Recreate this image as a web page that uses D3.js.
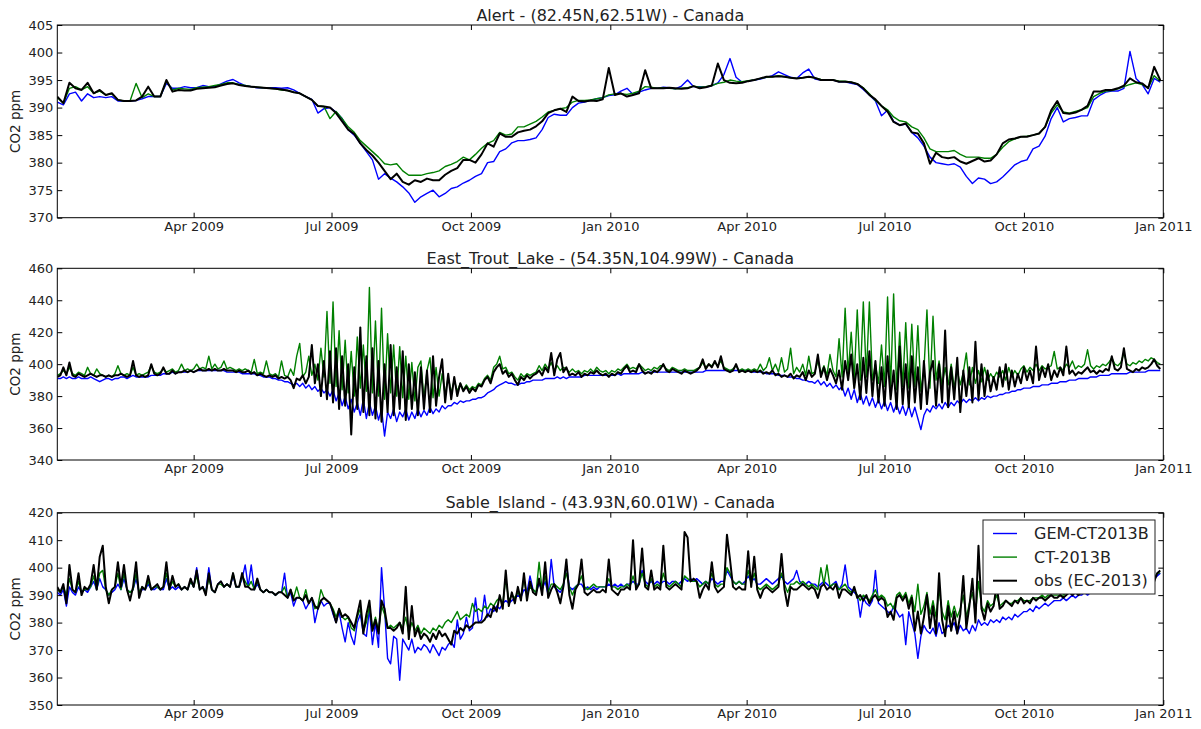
<!DOCTYPE html>
<html>
<head>
<meta charset="utf-8">
<script src="https://cdn.jsdelivr.net/npm/d3@7"></script>
<style>
body { margin: 0; background: #fff; }
svg { display: block; font-family: "DejaVu Sans", sans-serif; }
</style>
</head>
<body>
<svg width="1201" height="729"></svg>
<script>
var svg = d3.select("svg"),
    width = +svg.attr("width"),
    height = +svg.attr("height");

var startDate = Date.UTC(2009, 0, 1),
    endDate = Date.UTC(2011, 0, 1);

var seriesNames = ["GEM-CT2013B", "CT-2013B", "obs (EC-2013)"];
var seriesColors = ["#0000ff", "#008000", "#000000"];
var seriesWidths = [1.4, 1.4, 2];

var xTickLabels = ["Apr 2009", "Jul 2009", "Oct 2009", "Jan 2010", "Apr 2010", "Jul 2010", "Oct 2010", "Jan 2011"];

var alertTicks = [370, 375, 380, 385, 390, 395, 400, 405];
var etlTicks = [340, 360, 380, 400, 420, 440, 460];
var sableTicks = [350, 360, 370, 380, 390, 400, 410, 420];

// Alert: one value every 4 days from 2009-01-01
var alertGem = [
  391, 390.5, 392.5, 392.8, 391.2, 392.5, 391.8, 392, 391.8, 392,
  391.2, 391.2, 391.2, 391.3, 391.6, 392, 392, 392, 394.4, 393.5,
  393.5, 393.8, 393.6, 393.6, 394, 393.8, 393.8, 394.3, 394.8, 395.1,
  394.5, 394, 393.8, 393.6, 393.6, 393.6, 393.6, 393.5, 393.6, 393.2,
  392.6, 392, 391.5, 389, 389.8, 390, 389.2, 388, 386, 385,
  383.5, 382, 380.5, 377, 378, 377.2, 376.5, 375.6, 374.5, 372.8,
  373.8, 374.4, 375, 373.8, 374.4, 375.3, 375.6, 376.3, 376.8, 377.5,
  378, 380, 380.2, 382, 382.5, 383.6, 384, 384, 384.2, 384.5,
  386, 388.2, 388.8, 388.6, 388.6, 390, 390.8, 391, 391.3, 391.6,
  391.8, 392.2, 392.3, 393, 393.5, 392.4, 392.8, 393.2, 393.5, 393.5,
  393.7, 393.6, 393.4, 393.9, 395, 393.8, 393.8, 393.7, 394, 394.5,
  396, 398.9, 395.5, 394.6, 394.8, 395, 395.2, 395.5, 395.8, 396.5,
  396, 395.5, 395.3, 396.3, 397, 395.2, 395, 395, 395, 394.7,
  394.7, 394.4, 394.2, 393.3, 392.3, 391.2, 388.5, 389.5, 387.5, 386.8,
  387, 385.5, 384.5, 383, 381, 380, 379.8, 379.6, 379.8, 379.2,
  377.5, 376.2, 377.2, 377, 376.2, 376.5, 377.4, 378.5, 379.6, 380.2,
  380.5, 382.5, 383, 384.8, 388, 390, 387.4, 388, 388.2, 388.5,
  388.5, 391.4, 392.2, 392.8, 393, 393, 393.5, 400.2, 395.3, 394.2,
  392.5, 395.3, 394.6
];
var alertCt = [
  391.8, 390.8, 393.5, 393.8, 393.2, 393.8, 392.6, 393, 392.3, 392.5,
  391.4, 391.2, 391.2, 394.4, 391.8, 392.5, 392, 392, 394.8, 393.2,
  393.5, 393.4, 393.3, 393.6, 393.7, 393.8, 394, 394.2, 394.5, 394.5,
  394.2, 394, 393.8, 393.7, 393.6, 393.5, 393.4, 393.2, 393.1, 392.8,
  392.6, 392, 391.4, 390.3, 390.2, 388, 389.3, 388, 386.5, 385.5,
  384, 383, 382, 381, 379.8, 379.6, 379.8, 378.5, 377.7, 377.7,
  377.7, 378, 378.2, 378.5, 379.3, 379.7, 380.2, 381, 380.5, 381.5,
  382.6, 383.5, 384, 385.5, 385, 385.2, 386.5, 386.5, 387, 387.5,
  388.3, 389.2, 389.5, 389.8, 390, 391, 391.3, 391.3, 391.4, 391.6,
  391.8, 392.3, 392.5, 392.5, 392.4, 392.6, 393, 393.8, 393.7, 393.5,
  393.6, 393.5, 393.4, 393.5, 393.6, 393.9, 393.7, 393.8, 394, 394.4,
  394.6, 395, 394.8, 394.7, 394.9, 395, 395.3, 395.5, 395.6, 395.8,
  395.6, 395.4, 395.3, 395.4, 395.6, 395.4, 395.1, 395, 395, 394.8,
  394.8, 394.6, 394.3, 393.6, 392.5, 391.3, 390.3, 389.6, 388.3, 387.6,
  387.4, 386.5, 386, 384.5, 382.5, 382, 382, 382, 382.2, 381.5,
  381, 381, 381, 380.8, 380.8, 381.5, 382.8, 383.8, 384.3, 384.7,
  384.8, 385, 385.3, 386.5, 389, 390.5, 389.2, 389, 389.3, 389.6,
  390, 392, 392.6, 393, 393.1, 393.4, 393.8, 394.2, 394.5, 394.2,
  393.6, 395.8, 394.8
];
var alertObs = [
  392, 390.8, 394.5, 393.5, 393.2, 394.5, 392.6, 393.2, 392.3, 392.6,
  391.4, 391.2, 391.2, 391.3, 392, 393.8, 392, 392, 395, 392.9,
  393.2, 393.1, 393.1, 393.4, 393.5, 393.6, 393.7, 394, 394.3, 394.4,
  394.1, 393.9, 393.8, 393.7, 393.6, 393.5, 393.4, 393.3, 393.1, 392.8,
  392.6, 392, 391.4, 390.3, 390.2, 390, 389, 387.5, 386, 385.2,
  383.5, 382.3, 381.3, 380, 378.5, 377, 378, 376.5, 376, 376.8,
  376.5, 377.1, 376.8, 376.8, 377.8, 378.5, 379, 380.5, 380.5, 380,
  381.5, 383.5, 382.9, 385.3, 384.7, 384.7, 385.5, 385.8, 386, 386.6,
  387.5, 389, 389.5, 389.8, 389.2, 392, 391.2, 391.1, 391.3, 391.2,
  391.5, 397.2, 392.3, 392.6, 392, 392.3, 392.6, 396.8, 393.5, 393.5,
  393.5, 393.6, 393.5, 393.4, 393.5, 393.9, 393.5, 393.7, 394, 398,
  395, 394.5, 394.4, 394.5, 394.8, 395, 395.3, 395.6, 395.6, 395.7,
  395.6, 395.4, 395.3, 395.4, 395.6, 395.4, 395, 395, 395, 394.7,
  394.7, 394.6, 394.3, 393.5, 392.3, 391.5, 390.3, 389.3, 387.4, 386.8,
  387.1, 385.5, 385.3, 383.5, 379.8, 381.8, 381, 380.8, 381, 380.2,
  379.8, 380.3, 380.8, 380.2, 380.4, 381.5, 383.5, 384.2, 384.4, 384.7,
  384.7, 385, 385.3, 386.5, 389.5, 391.2, 389, 388.9, 389.1, 389.6,
  390.3, 392.9, 392.9, 393.2, 393.2, 393.5, 394, 395.3, 394.6, 394.4,
  393.5, 397.4, 395
];

// East Trout Lake: one value every 2 days from 2009-01-01
var etlGem = [
  391, 391, 392, 391, 392, 391, 391, 392, 391, 391, 391, 392, 391, 390, 389, 390, 391, 391, 390, 391,
  391, 392, 392, 391, 392, 393, 392, 392, 392, 392, 392, 393, 393, 393, 393, 394, 394, 394, 395, 394,
  395, 395, 395, 395, 396, 395, 396, 396, 396, 396, 396, 396, 396, 396, 396, 396, 395, 395, 395, 395,
  395, 394, 394, 394, 394, 394, 393, 393, 392, 392, 392, 391, 391, 390, 390, 389, 389, 388, 387, 388,
  386, 388, 385, 387, 384, 386, 383, 385, 382, 384, 380, 384, 377, 382, 374, 380, 372, 378, 370, 376,
  368, 378, 366, 376, 368, 374, 365, 372, 355, 370, 366, 372, 364, 370, 367, 372, 365, 370, 366, 372,
  367, 371, 368, 373, 369, 372, 370, 374, 372, 374, 374, 376, 375, 377, 376, 377, 377, 378, 378, 379,
  379, 380, 382, 383, 384, 386, 387, 388, 389, 388, 388, 387, 387, 388, 388, 389, 389, 390, 390, 390,
  390, 391, 391, 391, 391, 392, 391, 392, 391, 392, 392, 392, 392, 392, 393, 393, 393, 393, 393, 393,
  393, 393, 393, 393, 393, 394, 393, 394, 394, 394, 394, 394, 394, 395, 394, 395, 395, 395, 395, 395,
  395, 395, 395, 395, 395, 395, 395, 395, 395, 395, 395, 395, 395, 395, 396, 396, 396, 396, 396, 396,
  396, 396, 396, 396, 396, 396, 396, 396, 396, 395, 395, 395, 395, 395, 394, 394, 394, 394, 393, 393,
  393, 392, 392, 392, 391, 391, 390, 390, 389, 389, 388, 390, 387, 389, 386, 388, 385, 387, 384, 386,
  380, 385, 378, 384, 376, 382, 375, 380, 374, 379, 373, 378, 372, 377, 371, 376, 370, 375, 369, 374,
  368, 374, 367, 373, 366, 359, 368, 372, 370, 374, 372, 375, 372, 376, 373, 376, 374, 377, 375, 378,
  376, 378, 377, 379, 377, 379, 378, 380, 379, 380, 380, 381, 381, 382, 382, 383, 383, 384, 384, 385,
  385, 385, 386, 386, 386, 387, 387, 387, 388, 388, 388, 389, 389, 389, 390, 390, 390, 391, 391, 391,
  391, 392, 392, 392, 393, 393, 393, 393, 394, 394, 394, 394, 394, 394, 395, 395, 395, 395, 395, 395,
  396, 396, 396, 396, 396
];
var etlCt = [
  393, 394, 396, 394, 398, 394, 393, 395, 394, 393, 398, 394, 393, 397, 394, 393, 392, 393, 392, 394,
  399, 394, 393, 394, 393, 398, 393, 394, 393, 394, 395, 399, 395, 394, 395, 397, 395, 396, 397, 395,
  396, 400, 396, 397, 396, 397, 400, 397, 398, 397, 405, 397, 400, 397, 398, 402, 397, 398, 397, 396,
  397, 396, 397, 396, 395, 403, 394, 395, 394, 402, 394, 393, 394, 392, 402, 393, 392, 397, 393, 405,
  413, 392, 395, 405, 393, 400, 390, 410, 392, 433, 388, 439, 386, 421, 384, 415, 382, 408, 380, 417,
  385, 412, 383, 448, 382, 427, 380, 435, 378, 419, 382, 412, 380, 411, 379, 405, 378, 401, 377, 398,
  402, 378, 396, 404, 379, 398, 380, 394, 381, 392, 382, 390, 383, 388, 384, 387, 384, 386, 385, 388,
  387, 391, 393, 390, 398, 400, 405, 397, 398, 394, 395, 392, 390, 394, 392, 394, 393, 394, 395, 399,
  396, 400, 397, 401, 396, 399, 396, 398, 397, 395, 397, 395, 396, 394, 396, 395, 397, 395, 398, 396,
  395, 396, 394, 396, 395, 397, 396, 398, 400, 397, 398, 397, 400, 398, 396, 397, 396, 398, 397, 399,
  399, 397, 396, 398, 397, 396, 396, 397, 396, 396, 396, 397, 398, 401, 398, 400, 399, 401, 399, 402,
  398, 397, 396, 397, 399, 396, 397, 396, 397, 396, 397, 396, 400, 396, 398, 404, 396, 400, 395, 404,
  395, 397, 410, 394, 398, 395, 400, 393, 405, 394, 395, 402, 394, 399, 393, 406, 396, 392, 416, 392,
  435, 394, 420, 391, 434, 390, 439, 392, 439, 390, 400, 388, 412, 386, 442, 385, 444, 384, 420, 386,
  426, 385, 425, 386, 424, 383, 396, 434, 385, 430, 390, 402, 386, 398, 387, 400, 385, 396, 387, 395,
  407, 387, 398, 388, 396, 389, 398, 390, 394, 391, 395, 392, 396, 390, 398, 392, 396, 393, 397, 399,
  395, 398, 396, 400, 396, 399, 397, 398, 399, 408, 397, 398, 396, 400, 398, 402, 397, 399, 398, 400,
  409, 399, 397, 399, 398, 400, 399, 401, 404, 400, 399, 401, 407, 400, 399, 401, 400, 402, 401, 403,
  402, 404, 403, 401, 400
];
var etlObs = [
  392, 393, 398, 393, 401, 393, 392, 394, 393, 392, 393, 394, 393, 392, 393, 393, 392, 393, 392, 393,
  393, 394, 393, 392, 393, 402, 393, 392, 393, 392, 393, 400, 394, 393, 394, 398, 394, 394, 396, 394,
  395, 395, 396, 395, 396, 395, 396, 397, 396, 396, 397, 396, 397, 396, 396, 397, 396, 396, 396, 395,
  396, 395, 395, 396, 394, 395, 393, 394, 393, 392, 393, 392, 393, 391, 392, 391, 392, 390, 385, 391,
  390, 393, 388, 392, 412, 388, 400, 380, 402, 378, 408, 376, 410, 372, 405, 374, 400, 356, 398, 372,
  423, 370, 405, 368, 410, 366, 402, 364, 400, 370, 412, 368, 398, 372, 408, 365, 400, 372, 395, 368,
  398, 372, 396, 370, 405, 374, 392, 403, 376, 394, 378, 392, 380, 388, 383, 386, 382, 385, 383, 387,
  386, 390, 392, 388, 395, 398, 400, 394, 396, 392, 394, 390, 387, 392, 390, 393, 391, 393, 394, 396,
  393, 398, 395, 407, 393, 403, 407, 395, 398, 393, 394, 393, 395, 392, 394, 393, 395, 394, 396, 394,
  393, 394, 392, 394, 393, 395, 394, 397, 399, 395, 396, 395, 400, 396, 394, 395, 394, 396, 395, 397,
  400, 396, 395, 397, 396, 395, 394, 396, 395, 394, 395, 396, 398, 403, 397, 400, 398, 402, 398, 405,
  397, 396, 395, 396, 400, 395, 396, 395, 396, 395, 396, 395, 396, 394, 395, 394, 396, 393, 394, 392,
  393, 392, 394, 391, 393, 392, 395, 390, 396, 392, 394, 406, 392, 398, 390, 397, 393, 388, 396, 384,
  402, 390, 406, 385, 400, 378, 404, 382, 408, 380, 402, 376, 398, 374, 405, 378, 396, 372, 411, 375,
  400, 373, 405, 376, 398, 372, 402, 375, 395, 402, 374, 400, 376, 421, 373, 398, 378, 404, 370, 396,
  380, 398, 376, 414, 378, 400, 380, 396, 383, 392, 384, 398, 386, 400, 384, 396, 386, 394, 388, 398,
  390, 396, 388, 411, 390, 398, 392, 400, 390, 396, 392, 398, 393, 411, 394, 396, 393, 395, 394, 396,
  398, 395, 396, 394, 396, 395, 397, 396, 405, 397, 396, 398, 410, 397, 396, 395, 397, 396, 398, 397,
  398, 400, 403, 399, 397
];

// Sable Island: one value every 2 days from 2009-01-01
var sableGem = [
  391, 390, 392, 386, 393, 391, 390, 393, 391, 392, 391, 393, 395, 392, 396, 393, 392, 390, 391, 392,
  394, 392, 396, 392, 391, 392, 396, 391, 392, 392, 394, 392, 392, 393, 392, 392, 396, 392, 393, 392,
  393, 392, 393, 392, 395, 393, 400, 392, 393, 391, 400, 392, 391, 394, 395, 393, 394, 393, 397, 393,
  393, 396, 401, 393, 401, 392, 394, 392, 391, 392, 391, 391, 390, 391, 391, 398, 389, 391, 386, 389,
  389, 388, 385, 387, 389, 380, 385, 388, 386, 387, 387, 383, 380, 384, 378, 373, 380, 375, 372, 380,
  383, 376, 375, 385, 372, 380, 371, 400, 385, 367, 365, 375, 374, 359, 374, 372, 370, 374, 369, 371,
  370, 372, 371, 369, 372, 370, 368, 371, 370, 372, 373, 371, 381, 374, 376, 382, 377, 378, 389, 380,
  381, 390, 382, 385, 384, 386, 385, 387, 388, 387, 388, 389, 390, 389, 392, 391, 397, 392, 391, 394,
  392, 395, 390, 403, 393, 392, 391, 393, 401, 393, 392, 393, 394, 394, 392, 393, 392, 393, 392, 393,
  393, 393, 394, 393, 394, 393, 394, 393, 394, 394, 395, 394, 394, 399, 395, 394, 395, 394, 395, 394,
  395, 395, 394, 395, 395, 394, 395, 396, 395, 396, 395, 396, 395, 394, 395, 394, 396, 395, 394, 395,
  395, 399, 397, 395, 394, 395, 394, 395, 397, 395, 396, 394, 394, 395, 396, 395, 394, 395, 396, 397,
  395, 394, 395, 396, 399, 395, 394, 394, 395, 394, 394, 393, 394, 395, 394, 393, 394, 395, 392, 394,
  401, 393, 392, 391, 390, 382, 389, 387, 386, 388, 399, 387, 386, 385, 384, 383, 386, 384, 382, 383,
  372, 384, 380, 376, 367, 375, 379, 377, 376, 378, 375, 380, 376, 377, 379, 378, 380, 376, 379, 377,
  378, 376, 379, 377, 381, 379, 380, 379, 381, 380, 381, 380, 382, 381, 382, 381, 383, 382, 383, 384,
  384, 385, 384, 386, 385, 386, 387, 386, 387, 388, 388, 388, 389, 388, 389, 390, 389, 390, 390, 391,
  390, 391, 391, 392, 392, 393, 392, 393, 393, 394, 393, 394, 394, 393, 394, 395, 394, 394, 395, 394,
  395, 396, 396, 397, 398
];
var sableCt = [
  392, 391, 393, 390, 396, 392, 391, 395, 391, 392, 392, 393, 397, 392, 398, 399, 392, 390, 392, 393,
  398, 392, 398, 392, 391, 392, 398, 391, 393, 392, 395, 392, 393, 393, 392, 393, 398, 392, 395, 393,
  394, 392, 393, 392, 395, 393, 397, 392, 393, 391, 396, 392, 391, 394, 394, 393, 394, 393, 398, 393,
  393, 397, 395, 393, 395, 392, 395, 392, 391, 392, 391, 391, 390, 391, 391, 393, 389, 392, 389, 393,
  389, 388, 392, 387, 389, 385, 386, 392, 389, 388, 387, 385, 382, 385, 382, 381, 382, 378, 377, 382,
  385, 377, 380, 386, 378, 382, 377, 386, 383, 378, 379, 378, 379, 380, 378, 382, 376, 380, 377, 379,
  376, 378, 377, 376, 378, 377, 379, 378, 380, 381, 380, 382, 384, 381, 382, 383, 382, 387, 384, 385,
  384, 386, 385, 387, 386, 388, 389, 387, 396, 388, 390, 389, 391, 389, 396, 390, 393, 392, 391, 402,
  392, 397, 391, 394, 394, 393, 392, 394, 398, 393, 390, 393, 394, 397, 393, 392, 393, 394, 393, 393,
  393, 393, 396, 393, 393, 392, 393, 393, 394, 393, 397, 393, 394, 398, 394, 393, 396, 393, 394, 393,
  398, 394, 393, 394, 395, 394, 393, 397, 396, 395, 395, 395, 393, 394, 395, 394, 398, 394, 393, 394,
  394, 400, 398, 395, 394, 395, 394, 394, 399, 394, 398, 393, 392, 393, 394, 393, 392, 393, 394, 398,
  394, 391, 394, 394, 395, 394, 395, 394, 393, 394, 393, 392, 400, 394, 401, 393, 394, 394, 392, 393,
  394, 392, 391, 392, 390, 388, 390, 389, 388, 390, 392, 389, 390, 389, 386, 387, 385, 390, 391, 389,
  391, 387, 390, 384, 394, 383, 386, 391, 383, 388, 382, 392, 384, 381, 388, 382, 386, 382, 385, 390,
  382, 387, 391, 383, 395, 386, 384, 388, 386, 387, 390, 386, 387, 388, 387, 387, 388, 388, 389, 388,
  388, 388, 389, 389, 389, 390, 389, 390, 390, 390, 390, 390, 390, 391, 391, 391, 391, 391, 392, 392,
  392, 392, 393, 393, 394, 393, 393, 394, 394, 395, 394, 394, 396, 394, 395, 395, 394, 396, 395, 396,
  395, 396, 396, 398, 398
];
var sableObs = [
  393, 391, 394, 387, 401, 392, 391, 398, 390, 393, 392, 394, 401, 392, 404, 408, 393, 387, 392, 393,
  402, 393, 401, 392, 388, 393, 402, 389, 393, 392, 397, 392, 393, 394, 392, 393, 402, 392, 397, 393,
  394, 392, 393, 392, 396, 393, 399, 392, 393, 390, 398, 392, 391, 394, 395, 393, 394, 393, 398, 393,
  393, 398, 393, 393, 392, 392, 396, 392, 391, 392, 391, 391, 390, 391, 391, 390, 389, 392, 388, 389,
  389, 388, 390, 387, 389, 386, 385, 388, 389, 388, 387, 384, 380, 385, 382, 383, 382, 380, 378, 383,
  388, 376, 383, 388, 377, 381, 376, 388, 385, 378, 378, 377, 378, 380, 376, 393, 374, 386, 375, 378,
  374, 376, 375, 373, 376, 374, 377, 375, 376, 374, 372, 377, 376, 378, 377, 379, 378, 379, 380, 380,
  380, 381, 383, 382, 386, 384, 390, 385, 399, 386, 391, 387, 393, 388, 398, 388, 395, 391, 390, 396,
  390, 402, 389, 392, 394, 391, 387, 393, 403, 390, 385, 392, 394, 403, 391, 390, 391, 392, 391, 391,
  392, 391, 403, 392, 391, 390, 392, 392, 393, 392, 410, 392, 394, 407, 393, 392, 399, 392, 393, 392,
  408, 393, 392, 393, 394, 393, 392, 413, 411, 395, 396, 395, 389, 392, 394, 392, 402, 393, 391, 392,
  393, 412, 403, 393, 392, 393, 392, 392, 406, 393, 404, 392, 389, 392, 393, 392, 391, 392, 393, 405,
  392, 386, 393, 392, 392, 393, 394, 393, 392, 393, 392, 389, 393, 394, 392, 393, 392, 394, 389, 392,
  392, 391, 390, 393, 389, 390, 388, 390, 387, 389, 390, 388, 389, 388, 382, 384, 381, 389, 390, 388,
  390, 385, 389, 377, 384, 376, 382, 390, 378, 386, 376, 398, 381, 375, 386, 377, 384, 376, 383, 397,
  378, 386, 396, 380, 408, 385, 381, 387, 384, 386, 394, 385, 386, 388, 387, 386, 388, 387, 389, 387,
  388, 387, 389, 388, 389, 389, 388, 389, 390, 389, 389, 390, 389, 390, 391, 390, 391, 390, 391, 392,
  391, 392, 393, 392, 394, 393, 392, 394, 393, 395, 393, 394, 396, 393, 395, 394, 393, 396, 394, 395,
  394, 396, 395, 398, 399
];

var panels = [
  { title: "Alert - (82.45N,62.51W) - Canada", domain: [370, 405], ticks: alertTicks, step: 4,
    series: [alertGem, alertCt, alertObs], top: 25, bottom: 217.7 },
  { title: "East_Trout_Lake - (54.35N,104.99W) - Canada", domain: [340, 460], ticks: etlTicks, step: 2,
    series: [etlGem, etlCt, etlObs], top: 268.3, bottom: 460 },
  { title: "Sable_Island - (43.93N,60.01W) - Canada", domain: [350, 420], ticks: sableTicks, step: 2,
    series: [sableGem, sableCt, sableObs], top: 512.7, bottom: 705 }
];

var left = 57.3, right = 1163.3;
var parseTick = d3.utcParse("%b %Y");
var xTickDates = xTickLabels.map(parseTick);

var x = d3.scaleUtc().domain([startDate, endDate]).range([left, right]);

var fontFamily = '"DejaVu Sans", sans-serif';

panels.forEach(function(p, k) {
  var y = d3.scaleLinear().domain(p.domain).range([p.bottom, p.top]);
  var g = svg.append("g");

  g.append("clipPath").attr("id", "clip" + k)
    .append("rect")
    .attr("x", left).attr("y", p.top)
    .attr("width", right - left).attr("height", p.bottom - p.top);

  var line = d3.line()
    .x(function(d, i) { return x(startDate + i * p.step * 864e5); })
    .y(function(d) { return y(d); });

  var lines = g.append("g").attr("clip-path", "url(#clip" + k + ")");
  p.series.forEach(function(s, j) {
    lines.append("path")
      .datum(s)
      .attr("fill", "none")
      .attr("stroke", seriesColors[j])
      .attr("stroke-width", seriesWidths[j])
      .attr("stroke-linejoin", "round")
      .attr("d", line);
  });

  // axes, ticks pointing inwards like matplotlib
  var xAxis = d3.axisBottom(x).tickValues(xTickDates)
    .tickFormat(function(d, i) { return xTickLabels[i]; })
    .tickSize(-5).tickPadding(4);
  var xTop = d3.axisTop(x).tickValues(xTickDates).tickFormat("").tickSize(-5);
  var yAxis = d3.axisLeft(y).tickValues(p.ticks).tickSize(-5).tickPadding(4);
  var yRight = d3.axisRight(y).tickValues(p.ticks).tickFormat("").tickSize(-5);

  var axes = [
    g.append("g").attr("transform", "translate(0," + p.bottom + ")").call(xAxis),
    g.append("g").attr("transform", "translate(0," + p.top + ")").call(xTop),
    g.append("g").attr("transform", "translate(" + left + ",0)").call(yAxis),
    g.append("g").attr("transform", "translate(" + right + ",0)").call(yRight)
  ];
  axes.forEach(function(a) {
    a.select(".domain").remove();
    a.selectAll("line").attr("stroke", "#000");
    a.selectAll("text")
      .attr("fill", "#222")
      .style("font-family", fontFamily)
      .style("font-size", "13px");
  });

  g.append("rect")
    .attr("x", left).attr("y", p.top)
    .attr("width", right - left).attr("height", p.bottom - p.top)
    .attr("fill", "none").attr("stroke", "#000").attr("stroke-width", 1);

  g.append("text")
    .attr("x", (left + right) / 2)
    .attr("y", p.top - 4.5)
    .attr("text-anchor", "middle")
    .attr("fill", "#222")
    .style("font-family", fontFamily)
    .style("font-size", "16px")
    .text(p.title);

  g.append("text")
    .attr("transform", "translate(20," + (p.top + p.bottom) / 2 + ") rotate(-90)")
    .attr("text-anchor", "middle")
    .attr("fill", "#222")
    .style("font-family", fontFamily)
    .style("font-size", "13.5px")
    .text("CO2 ppm");
});

// legend in the bottom panel
var legend = svg.append("g").attr("transform", "translate(983,520)");
legend.append("rect")
  .attr("width", 172).attr("height", 74)
  .attr("fill", "#fff").attr("stroke", "#222").attr("stroke-width", 1);

var rows = legend.selectAll(".row").data(seriesNames).enter()
  .append("g").attr("class", "row")
  .attr("transform", function(d, i) { return "translate(0," + (13.5 + i * 23.6) + ")"; });
rows.append("line")
  .attr("x1", 10).attr("x2", 34)
  .attr("stroke", function(d, i) { return seriesColors[i]; })
  .attr("stroke-width", function(d, i) { return seriesWidths[i]; });
rows.append("text")
  .attr("x", 51).attr("dy", "0.35em")
  .attr("fill", "#222")
  .style("font-family", fontFamily)
  .style("font-size", "16px")
  .text(function(d) { return d; });
</script>
</body>
</html>
